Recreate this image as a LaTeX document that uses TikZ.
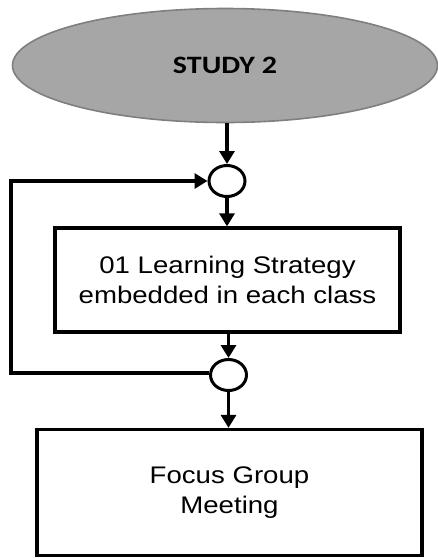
\documentclass[tikz,border=0pt]{standalone}
\usepackage{fontspec}
\setmainfont{Liberation Sans}
\newfontfamily\headfont{Carlito}
\usetikzlibrary{shapes.geometric,arrows.meta}
\definecolor{headfill}{HTML}{A6A6A6}
\definecolor{headline}{HTML}{7F7F7F}
\newcommand{\wide}[2]{\scalebox{#1}[1]{#2}}
\begin{document}
\begin{tikzpicture}[x=1pt,y=-1pt,
  headnode/.style={ellipse, fill=headfill, draw=headline, line width=1.6pt,
    minimum width=425pt, minimum height=114pt, inner sep=0pt},
  joint/.style={ellipse, draw=black, fill=white, line width=3pt,
    minimum width=36pt, minimum height=31pt, inner sep=0pt},
  stepbox/.style={rectangle, draw=black, line width=3.3pt, inner sep=0pt,
    align=center, font=\fontsize{24pt}{30pt}\selectfont},
  flow/.style={line width=3.2pt, -{Triangle[width=15pt,length=13pt]}}]
  \useasboundingbox (0,0) rectangle (438,558);

  % start of the study
  \node[headnode] (study) at (225,65.5)
    {\wide{1.2}{\headfont\bfseries\fontsize{25pt}{30pt}\selectfont STUDY 2}};

  % merge and split points of the loop
  \node[joint] (c1) at (227,181) {};
  \node[joint] (c2) at (228.5,375) {};

  % process steps
  \node[stepbox, minimum width=345pt, minimum height=104pt] (strat) at (227.5,280)
    {\wide{1.15}{01 Learning Strategy}\\\wide{1.15}{embedded in each class}};
  \node[stepbox, minimum width=385pt, minimum height=126pt] (focus) at (229.5,492.5)
    {\wide{1.15}{Focus Group}\\\wide{1.15}{Meeting}};

  % main flow
  \draw[flow] (study.south -| c1) -- (c1.north);
  \draw[flow] (c1.south) -- (c1.south |- strat.north);
  \draw[flow] (strat.south -| c2) -- (c2.north);
  \draw[flow] (c2.south) -- (c2.south |- focus.north);

  % repeat loop back to the start of each class
  \coordinate (lb) at (11,373);
  \coordinate (lt) at (11,181);
  \draw[flow] (c2.west |- lb) -- (lb) -- (lt) -- (c1.west);
\end{tikzpicture}
\end{document}
